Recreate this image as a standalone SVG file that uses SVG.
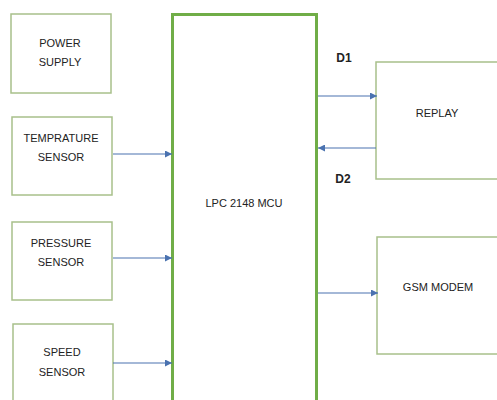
<svg xmlns="http://www.w3.org/2000/svg" width="497" height="400" viewBox="0 0 497 400">
<defs>
<style>
.box{fill:#fff;stroke:#a8c08a;stroke-width:1.5}
.mcu{fill:#fff;stroke:#70ad47;stroke-width:3}
.t{font-family:"Liberation Sans",Arial,sans-serif;font-size:11px;fill:#222;text-anchor:middle;dominant-baseline:central}
.b{font-weight:bold;font-size:12px}
.c{stroke:#4a72b0;stroke-width:1.2;fill:none}
</style>
<marker id="ah" viewBox="0 0 10 10" refX="10" refY="5" markerWidth="7" markerHeight="7" markerUnits="userSpaceOnUse" orient="auto">
<path d="M0,0 L10,5 L0,10 z" fill="#4a72b0"/>
</marker>
</defs>
<rect width="497" height="400" fill="#fff"/>
<g id="power"><rect class="box" x="11" y="14" width="100" height="79"/><text class="t" x="60" y="43">POWER</text><text class="t" x="60" y="62">SUPPLY</text></g>
<g id="temp"><rect class="box" x="12" y="117" width="100" height="78"/><text class="t" x="61" y="138">TEMPRATURE</text><text class="t" x="61" y="157">SENSOR</text></g>
<g id="pressure"><rect class="box" x="12" y="222" width="100" height="78"/><text class="t" x="61" y="243">PRESSURE</text><text class="t" x="61" y="262">SENSOR</text></g>
<g id="speed"><rect class="box" x="13" y="324" width="100" height="90"/><text class="t" x="62" y="352">SPEED</text><text class="t" x="62" y="372">SENSOR</text></g>
<g id="mcu"><rect class="mcu" x="172.5" y="14.5" width="144" height="400"/><text class="t" x="244" y="203">LPC 2148 MCU</text></g>
<g id="replay"><rect class="box" x="376" y="62" width="130" height="117"/><text class="t" x="437" y="113">REPLAY</text></g>
<g id="gsm"><rect class="box" x="377" y="237" width="130" height="117"/><text class="t" x="438" y="287">GSM MODEM</text></g>
<g id="connectors">
<line class="c" x1="113" y1="154" x2="172" y2="154" marker-end="url(#ah)"/>
<line class="c" x1="113" y1="258" x2="172" y2="258" marker-end="url(#ah)"/>
<line class="c" x1="113" y1="363" x2="172" y2="363" marker-end="url(#ah)"/>
<line class="c" x1="318" y1="96" x2="377" y2="96" marker-end="url(#ah)"/>
<line class="c" x1="376" y1="148" x2="318" y2="148" marker-end="url(#ah)"/>
<line class="c" x1="318" y1="293" x2="378" y2="293" marker-end="url(#ah)"/>
<text class="t b" x="344" y="58">D1</text>
<text class="t b" x="343" y="179">D2</text>
</g>
</svg>
